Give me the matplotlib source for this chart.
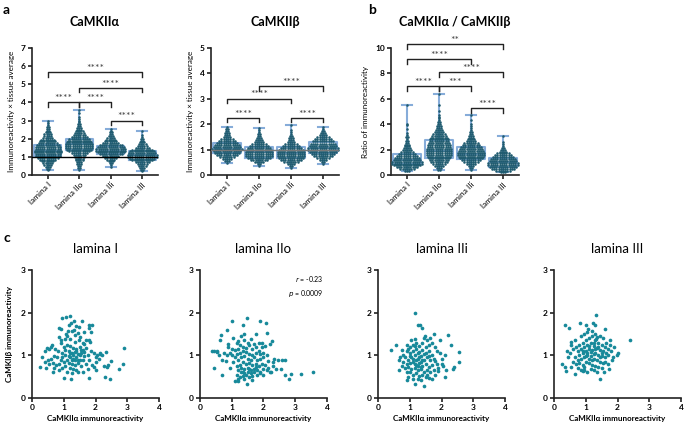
import numpy as np
import matplotlib
matplotlib.use("Agg")
import matplotlib.pyplot as plt

plt.rcParams['font.family'] = ['Lato', 'DejaVu Sans']

# ---------------- data ----------------
groups = ['lamina I', 'lamina IIo', 'lamina IIi', 'lamina III']

# swarm rows: start value, step, number of dots per row
alpha_start = [0.25, 0.3, 0.45, 0.2]
alpha_step = 0.1
alpha_counts = [
    [1, 2, 3, 4, 5, 6, 8, 10, 12, 12, 13, 13, 12, 12, 11, 9, 8, 7, 5, 4, 4, 3, 2, 2, 2, 1, 1, 1],
    [1, 2, 2, 3, 3, 4, 4, 5, 6, 8, 10, 12, 13, 13, 13, 12, 11, 10, 8, 6, 5, 4, 3, 3, 2, 2, 1, 1, 1, 1, 0, 1, 0, 1],
    [1, 1, 2, 3, 4, 6, 8, 11, 13, 14, 14, 13, 11, 8, 6, 5, 4, 3, 2, 2, 1, 1],
    [1, 2, 3, 4, 5, 7, 10, 12, 14, 14, 13, 12, 10, 7, 5, 4, 3, 2, 2, 1, 1, 0, 1],
]
alpha_q1 = [1.05, 1.4, 1.15, 0.85]
alpha_med = [1.3, 1.7, 1.35, 1.1]
alpha_q3 = [1.65, 2.0, 1.6, 1.35]

beta_start = [0.46, 0.34, 0.27, 0.44]
beta_step = 0.08
beta_counts = [
    [1, 3, 5, 7, 10, 12, 13, 14, 13, 12, 10, 8, 6, 4, 3, 3, 2, 2, 1],
    [1, 2, 5, 8, 11, 13, 13, 13, 12, 11, 9, 7, 5, 4, 3, 2, 2, 1, 1, 1],
    [1, 2, 4, 7, 10, 12, 13, 13, 13, 12, 10, 8, 6, 4, 3, 3, 2, 1, 1, 1, 0, 1],
    [1, 2, 4, 6, 9, 11, 13, 14, 14, 13, 12, 10, 8, 6, 4, 3, 2, 1, 1],
]
beta_q1 = [0.85, 0.68, 0.65, 0.88]
beta_med = [1.03, 0.9, 0.88, 1.05]
beta_q3 = [1.25, 1.12, 1.12, 1.28]

ratio_start = [0.3, 0.4, 0.4, 0.2]
ratio_step = 0.15
ratio_counts = [
    [3, 7, 10, 13, 14, 14, 13, 12, 10, 8, 6, 5, 4, 3, 3, 2, 2, 1, 2, 1, 1, 0, 1, 0, 1, 1, 0, 0, 0, 0, 0, 0, 0, 0, 0, 1],
    [2, 3, 5, 6, 8, 9, 10, 11, 12, 12, 12, 12, 11, 11, 10, 9, 9, 8, 7, 6, 5, 4, 3, 3, 2, 2, 1, 1, 1, 1, 0, 1, 0, 0, 1, 0, 0, 0, 0, 0, 1],
    [1, 2, 3, 5, 7, 9, 11, 12, 13, 13, 12, 11, 10, 8, 7, 5, 4, 3, 3, 2, 2, 1, 1, 1, 1, 0, 1, 0, 0, 1],
    [3, 7, 11, 13, 14, 14, 13, 12, 10, 8, 6, 4, 3, 2, 1, 1, 1, 0, 0, 1],
]
ratio_q1 = [0.85, 1.3, 1.25, 0.65]
ratio_med = [1.15, 1.9, 1.65, 1.0]
ratio_q3 = [1.65, 2.75, 2.2, 1.35]

# significance brackets: (group a, group b, height, label)
alpha_sig = [(0, 1, 4.0, '****'), (1, 2, 4.0, '****'), (2, 3, 3.0, '****'),
             (1, 3, 4.8, '****'), (0, 3, 5.65, '****')]
beta_sig = [(0, 1, 2.25, '****'), (2, 3, 2.25, '****'), (0, 2, 3.0, '****'),
            (1, 3, 3.5, '****')]
ratio_sig = [(0, 1, 7.0, '****'), (1, 2, 7.0, '***'), (2, 3, 5.25, '****'),
             (1, 3, 8.1, '****'), (0, 2, 9.1, '****'), (0, 3, 10.3, '**')]

# panel c: CaMKIIa (x) vs CaMKIIb (y) per lamina
lam1_pts = [
    (0.96, 1.87), (1.07, 1.89), (1.21, 1.93), (1.33, 1.80), (1.15, 1.72), (1.24, 1.75), (1.59, 1.80),
    (1.78, 1.72), (1.88, 1.72), (0.84, 1.63), (0.90, 1.61), (1.40, 1.69), (1.49, 1.66), (1.25, 1.56),
    (1.33, 1.59), (1.14, 1.57), (1.80, 1.63), (1.85, 1.55), (1.65, 1.55), (1.46, 1.53), (1.07, 1.51),
    (0.86, 1.43), (0.91, 1.37), (1.36, 1.47), (1.49, 1.35), (1.21, 1.39), (1.04, 1.39), (1.71, 1.35),
    (1.78, 1.37), (1.83, 1.31), (1.65, 1.27), (1.36, 1.31), (0.91, 1.29), (0.63, 1.25), (0.48, 1.17),
    (0.54, 1.15), (0.61, 1.19), (0.42, 1.11), (0.71, 1.15), (0.81, 1.11),
    (1.0, 1.2), (1.1, 1.25), (1.2, 1.22), (1.3, 1.18), (1.4, 1.15), (1.5, 1.2), (1.6, 1.12), (1.7, 1.18),
    (1.85, 1.1), (1.95, 1.05), (2.05, 1.0), (2.15, 1.05), (1.15, 1.1), (1.25, 1.05), (1.35, 1.08),
    (1.45, 1.02), (1.55, 1.05), (1.65, 0.98), (1.75, 1.0), (0.95, 1.05), (1.05, 1.0), (1.2, 0.95),
    (1.3, 0.92), (1.4, 0.95), (1.5, 0.9), (1.6, 0.88), (1.1, 0.9), (1.0, 0.85), (0.9, 0.9), (0.8, 0.95),
    (0.7, 0.98), (0.6, 0.92), (0.5, 0.88), (0.4, 0.85), (0.55, 0.8), (0.65, 0.82), (0.75, 0.78),
    (0.85, 0.8), (1.15, 0.82), (1.25, 0.8), (1.35, 0.78), (1.45, 0.82), (1.55, 0.75), (1.7, 0.8),
    (1.9, 0.78), (2.0, 0.85), (1.05, 0.75), (1.2, 0.7), (1.3, 0.68), (1.4, 0.65), (0.95, 0.7),
    (0.85, 0.65), (0.65, 0.62), (0.7, 0.7), (1.1, 0.6), (1.25, 0.58), (1.45, 0.6), (1.6, 0.62),
    (1.75, 0.68), (1.95, 0.72), (1.3, 1.0), (1.4, 1.1), (1.5, 1.0), (1.2, 1.05), (1.35, 0.88),
    (1.25, 0.9), (1.45, 0.9), (1.15, 0.98), (1.55, 1.13), (1.65, 1.08), (1.05, 1.13), (0.95, 0.95),
    (1.8, 0.9), (2.1, 0.92), (2.2, 1.0), (1.6, 1.3), (1.5, 1.42), (1.1, 1.45),
    (0.26, 0.73), (2.89, 1.17), (2.86, 0.79), (2.73, 0.67), (2.47, 0.45), (2.31, 0.49), (1.80, 0.47),
    (1.22, 0.45), (1.02, 0.48), (2.34, 1.08), (2.50, 0.86), (2.36, 0.73), (2.26, 0.74), (2.14, 1.03),
    (2.03, 0.96), (2.4, 0.78), (2.0, 0.65), (0.3, 0.95), (0.45, 0.7),
]
lam2o_pts = [
    (1.0, 1.80), (1.48, 1.87), (1.90, 1.80), (2.09, 1.75), (0.86, 1.59), (1.35, 1.70), (0.66, 1.47),
    (0.64, 1.36), (0.89, 1.26), (0.89, 1.20), (0.45, 1.11), (0.39, 1.11), (0.53, 1.09), (0.43, 0.71),
    (0.68, 0.55), (3.57, 0.61), (3.18, 0.57), (2.86, 0.57), (2.81, 0.45), (2.68, 0.53), (2.68, 0.89),
    (2.57, 0.89), (1.48, 0.33), (1.09, 0.41), (1.2, 0.40), (2.27, 1.34), (2.19, 1.26), (2.11, 1.52),
    (1.75, 1.50), (1.39, 1.50), (1.38, 1.37), (1.2, 1.34), (1.2, 1.16), (1.70, 1.26), (1.95, 1.19),
    (1.89, 1.03), (2.40, 0.67), (2.55, 0.67), (2.29, 0.75), (2.14, 0.87), (2.34, 0.91), (0.83, 0.87),
    (0.96, 0.71),
    (1.25, 1.05), (1.35, 1.1), (1.45, 1.08), (1.55, 1.02), (1.65, 1.0), (1.75, 1.05), (1.85, 1.1),
    (1.3, 0.95), (1.4, 0.98), (1.5, 0.92), (1.6, 0.9), (1.7, 0.95), (1.8, 0.88), (1.9, 0.92), (2.0, 0.95),
    (1.2, 0.88), (1.1, 0.95), (1.0, 1.0), (1.15, 1.02), (1.05, 0.85), (1.35, 0.85), (1.45, 0.8),
    (1.55, 0.82), (1.65, 0.78), (1.75, 0.8), (1.85, 0.75), (1.95, 0.8), (2.05, 0.78), (1.25, 0.78),
    (1.15, 0.75), (1.3, 0.7), (1.4, 0.68), (1.5, 0.7), (1.6, 0.65), (1.7, 0.68), (1.8, 0.65), (1.9, 0.62),
    (2.0, 0.68), (2.1, 0.65), (2.2, 0.6), (1.2, 0.65), (1.3, 0.6), (1.4, 0.58), (1.5, 0.62), (1.6, 0.58),
    (1.7, 0.6), (1.8, 0.55), (1.9, 0.58), (2.0, 0.55), (2.15, 0.7), (2.25, 0.62), (1.35, 0.52),
    (1.45, 0.55), (1.55, 0.5), (1.65, 0.52), (1.25, 0.5), (1.15, 0.55), (1.35, 0.62), (1.55, 0.68),
    (1.75, 0.72), (1.45, 1.18), (1.55, 1.25), (1.65, 1.15), (1.35, 1.2), (1.25, 1.25), (1.75, 1.2),
    (1.85, 1.28), (1.95, 1.3), (2.05, 1.22), (1.5, 1.3), (1.6, 1.38), (2.0, 1.05), (2.1, 1.0), (1.1, 1.12),
    (1.0, 1.15), (0.95, 1.05), (1.15, 1.3), (1.05, 1.4), (1.3, 1.45), (0.85, 1.0), (0.75, 1.05),
    (0.6, 1.0), (0.55, 1.08), (0.7, 0.9), (2.3, 0.85), (2.45, 0.88), (1.2, 0.45), (1.4, 0.45), (1.65, 0.42),
]
lam2i_pts = [
    (1.18, 2.0), (1.25, 1.70), (1.33, 1.72), (1.39, 1.64), (0.41, 1.13), (0.58, 1.24), (0.67, 0.65),
    (0.90, 0.43), (1.18, 0.33), (1.44, 0.29), (2.22, 1.47), (2.29, 1.25), (2.54, 1.07), (2.54, 0.85),
    (2.38, 0.73), (2.35, 0.67), (2.10, 0.49), (1.96, 1.36), (1.75, 1.50), (1.49, 1.46), (1.78, 0.87),
    (2.0, 0.79), (1.89, 0.63),
    (1.0, 1.2), (1.1, 1.25), (1.2, 1.3), (1.3, 1.22), (1.4, 1.28), (1.5, 1.2), (1.6, 1.25), (1.7, 1.3),
    (1.8, 1.2), (0.9, 1.1), (1.0, 1.05), (1.1, 1.1), (1.2, 1.15), (1.3, 1.08), (1.4, 1.12), (1.5, 1.05),
    (1.6, 1.1), (1.7, 1.0), (0.85, 0.95), (0.95, 0.9), (1.05, 0.95), (1.15, 1.0), (1.25, 0.92),
    (1.35, 0.98), (1.45, 0.9), (1.55, 0.95), (1.65, 0.88), (1.75, 0.92), (0.8, 0.85), (0.9, 0.8),
    (1.0, 0.82), (1.1, 0.85), (1.2, 0.78), (1.3, 0.82), (1.4, 0.75), (1.5, 0.8), (1.6, 0.72), (1.7, 0.78),
    (1.85, 0.8), (0.75, 0.75), (0.85, 0.7), (0.95, 0.72), (1.05, 0.68), (1.15, 0.7), (1.25, 0.65),
    (1.35, 0.68), (1.45, 0.62), (1.55, 0.65), (1.65, 0.6), (1.75, 0.66), (1.0, 0.6), (1.1, 0.55),
    (1.2, 0.58), (1.3, 0.52), (1.4, 0.55), (1.5, 0.5), (1.6, 0.48), (1.7, 0.45), (1.25, 0.45),
    (1.35, 0.42), (1.1, 0.45), (0.95, 0.5), (1.8, 0.55), (1.9, 0.7), (2.05, 0.75), (2.15, 0.65),
    (2.0, 0.92), (1.95, 1.05), (1.85, 1.1), (2.1, 1.0), (0.7, 0.95), (0.65, 0.88), (0.8, 1.0), (0.75, 1.12),
    (0.9, 1.25), (1.05, 1.35), (1.15, 1.38), (1.25, 1.05), (1.35, 0.85), (1.45, 1.02), (1.55, 1.35),
    (1.65, 1.4), (1.45, 1.4), (1.2, 0.88), (1.3, 0.95), (1.1, 0.92), (1.0, 0.98), (1.4, 0.88), (1.15, 0.8),
    (1.25, 0.75), (1.35, 0.72), (0.9, 0.62), (1.55, 0.55), (0.95, 1.15), (1.15, 1.22), (1.6, 0.98),
]
lam3_pts = [
    (1.33, 1.94), (0.36, 1.71), (0.48, 1.63), (0.83, 1.76), (1.22, 1.75), (1.29, 1.70), (1.02, 1.70),
    (1.08, 1.61), (1.61, 1.61), (2.39, 1.37), (1.97, 1.01), (1.82, 0.90), (1.45, 0.44), (1.73, 0.67),
    (1.57, 0.60), (0.25, 0.79), (0.34, 0.73), (0.37, 0.63), (0.65, 0.56), (0.90, 0.63), (0.96, 0.66),
    (1.75, 1.35), (1.31, 1.39), (0.55, 1.31),
    (0.7, 1.2), (0.8, 1.25), (0.9, 1.3), (1.0, 1.35), (1.1, 1.4), (1.2, 1.45), (1.3, 1.35), (1.4, 1.3),
    (1.5, 1.25), (1.6, 1.2), (0.75, 1.1), (0.85, 1.15), (0.95, 1.2), (1.05, 1.25), (1.15, 1.3),
    (1.25, 1.22), (1.35, 1.18), (1.45, 1.12), (1.55, 1.1), (1.65, 1.05), (0.8, 1.0), (0.9, 1.05),
    (1.0, 1.1), (1.1, 1.15), (1.2, 1.12), (1.3, 1.05), (1.4, 1.0), (1.5, 0.98), (1.6, 0.95), (1.7, 1.0),
    (0.65, 0.95), (0.75, 0.9), (0.85, 0.92), (0.95, 0.95), (1.05, 1.0), (1.15, 0.98), (1.25, 0.92),
    (1.35, 0.88), (1.45, 0.85), (1.55, 0.82), (0.6, 0.85), (0.7, 0.8), (0.8, 0.82), (0.9, 0.78),
    (1.0, 0.85), (1.1, 0.82), (1.2, 0.78), (1.3, 0.75), (1.4, 0.72), (1.5, 0.7), (0.55, 0.72),
    (0.75, 0.7), (0.95, 0.72), (1.15, 0.68), (1.25, 0.65), (1.35, 0.62), (1.05, 0.62), (0.85, 0.65),
    (1.8, 1.1), (1.9, 1.2), (1.85, 0.95), (2.0, 1.05), (0.5, 1.05), (0.45, 0.95), (0.4, 1.1), (0.6, 1.15),
    (0.55, 1.25), (0.65, 1.35), (0.85, 1.45), (0.95, 1.5), (1.05, 1.55), (1.2, 1.58), (1.3, 1.5),
    (1.45, 1.45), (1.55, 1.4), (1.65, 1.3), (1.7, 1.15), (1.75, 1.25), (1.05, 1.05), (1.15, 1.08),
    (1.25, 1.02), (1.2, 0.9), (1.1, 0.92), (1.3, 1.15), (1.4, 1.2), (1.0, 0.98), (0.9, 1.1), (1.1, 1.22),
    (1.35, 1.42), (1.25, 1.3), (1.5, 1.05), (1.6, 0.85), (1.7, 0.8), (1.45, 0.95),
]
scatter_titles = ['lamina I', 'lamina IIo', 'lamina IIi', 'lamina III']

# ---------------- style ----------------
DOT = '#1f5b6f'
BOX = '#86acd9'
TEAL = '#17899a'
INK = '#222222'
DOT_GAP = 0.07

W, H = 685, 425
fig = plt.figure(figsize=(W / 100, H / 100), dpi=100)


def px_axes(x0, y0, w, h):
    return fig.add_axes([x0 / W, 1 - (y0 + h) / H, w / W, h / H])


def style_axes(ax):
    for s in ['top', 'right']:
        ax.spines[s].set_visible(False)
    for s in ['left', 'bottom']:
        ax.spines[s].set_linewidth(1.2)
        ax.spines[s].set_color(INK)
    ax.tick_params(width=1.2, length=3, color=INK, labelsize=6, pad=1.5)
    for lab in ax.get_yticklabels():
        lab.set_fontweight('bold')


def swarm_panel(ax, starts, step, counts, q1, med, q3, ymax, sig, hline=None):
    stats = []
    for g in range(4):
        vals, xs = [], []
        for i, n in enumerate(counts[g]):
            if n == 0:
                continue
            v = starts[g] + i * step
            offs = (np.arange(n) - (n - 1) / 2) * DOT_GAP
            xs.extend(g + offs)
            vals.extend([v] * n)
        vals = np.array(vals)
        stats.append(dict(med=med[g], q1=q1[g], q3=q3[g],
                          whislo=vals.min(), whishi=vals.max(), fliers=[]))
        ax.scatter(xs, vals, s=3.4, color=DOT, linewidths=0, zorder=3)
    ax.bxp(stats, positions=range(4), widths=0.85, capwidths=0.32, showfliers=False,
           boxprops=dict(color=BOX, lw=1.5), whiskerprops=dict(color=BOX, lw=1.5),
           capprops=dict(color=BOX, lw=1.5), medianprops=dict(color=BOX, lw=1.5),
           manage_ticks=False, zorder=2)
    if hline is not None:
        ax.axhline(1, color=hline, lw=1.0, zorder=4)
    h = ymax * 0.035
    for a, b, y, lab in sig:
        ax.plot([a, a, b, b], [y - h, y, y, y - h], color=INK, lw=1.0, clip_on=False)
        ax.annotate(lab, ((a + b) / 2, y), xytext=(0, -0.5), textcoords='offset points',
                    ha='center', va='bottom', fontsize=7.5, color='#444444',
                    annotation_clip=False)
    ax.set_xlim(-0.5, 3.5)
    ax.set_ylim(0, ymax)
    ax.set_xticks(range(4))
    ax.set_xticklabels(groups, rotation=45, ha='right', rotation_mode='anchor', fontsize=5.8)
    style_axes(ax)


# panel a, CaMKIIa
ax1 = px_axes(32, 48, 126, 127)
swarm_panel(ax1, alpha_start, alpha_step, alpha_counts, alpha_q1, alpha_med, alpha_q3,
            7, alpha_sig, hline='black')
ax1.set_yticks(range(8))
ax1.set_ylabel('Immunoreactivity × tissue average', fontsize=5.8, labelpad=4)
ax1.set_title('CaMKIIα', fontsize=9, fontweight='bold', pad=16)
style_axes(ax1)

# panel a, CaMKIIb
ax2 = px_axes(211, 48, 128, 127)
swarm_panel(ax2, beta_start, beta_step, beta_counts, beta_q1, beta_med, beta_q3,
            5, beta_sig, hline='#777777')
ax2.set_yticks(range(6))
ax2.set_ylabel('Immunoreactivity × tissue average', fontsize=5.8, labelpad=4)
ax2.set_title('CaMKIIβ', fontsize=9, fontweight='bold', pad=16)
style_axes(ax2)

# panel b, ratio
ax3 = px_axes(391, 48, 128, 127)
swarm_panel(ax3, ratio_start, ratio_step, ratio_counts, ratio_q1, ratio_med, ratio_q3,
            10, ratio_sig)
ax3.set_yticks(range(0, 11, 2))
ax3.set_ylabel('Ratio of immunoreactivity', fontsize=5.8, labelpad=4)
ax3.set_title('CaMKIIα / CaMKIIβ', fontsize=9, fontweight='bold', pad=16)
style_axes(ax3)

# panel c, scatter plots
all_pts = [lam1_pts, lam2o_pts, lam2i_pts, lam3_pts]
lefts = [32, 200, 378, 554]
for k in range(4):
    ax = px_axes(lefts[k], 270, 127, 128)
    pts = np.array(all_pts[k])
    ax.scatter(pts[:, 0], pts[:, 1], s=7, color=TEAL, linewidths=0, zorder=3)
    ax.set_xlim(0, 4)
    ax.set_ylim(0, 3)
    ax.set_xticks(range(5))
    ax.set_yticks(range(4))
    style_axes(ax)
    for lab in ax.get_xticklabels():
        lab.set_fontweight('bold')
    ax.set_xlabel('CaMKIIα immunoreactivity', fontsize=5.8, fontweight='bold', labelpad=3)
    ax.set_title(scatter_titles[k], fontsize=9.5, pad=12)
    if k == 0:
        ax.set_ylabel('CaMKIIβ immunoreactivity', fontsize=5.8, fontweight='bold', labelpad=6)
    if k == 1:
        ax.text(3.9, 2.78, '$r$ = -0.23', fontsize=5, ha='right', va='center')
        ax.text(3.9, 2.45, '$p$ = 0.0009', fontsize=5, ha='right', va='center')

fig.text(3 / W, 1 - 10 / H, 'a', fontsize=10, fontweight='bold', va='center')
fig.text(368 / W, 1 - 10 / H, 'b', fontsize=10, fontweight='bold', va='center')
fig.text(3 / W, 1 - 238 / H, 'c', fontsize=10, fontweight='bold', va='center')

fig.savefig('out.png', dpi=100)
